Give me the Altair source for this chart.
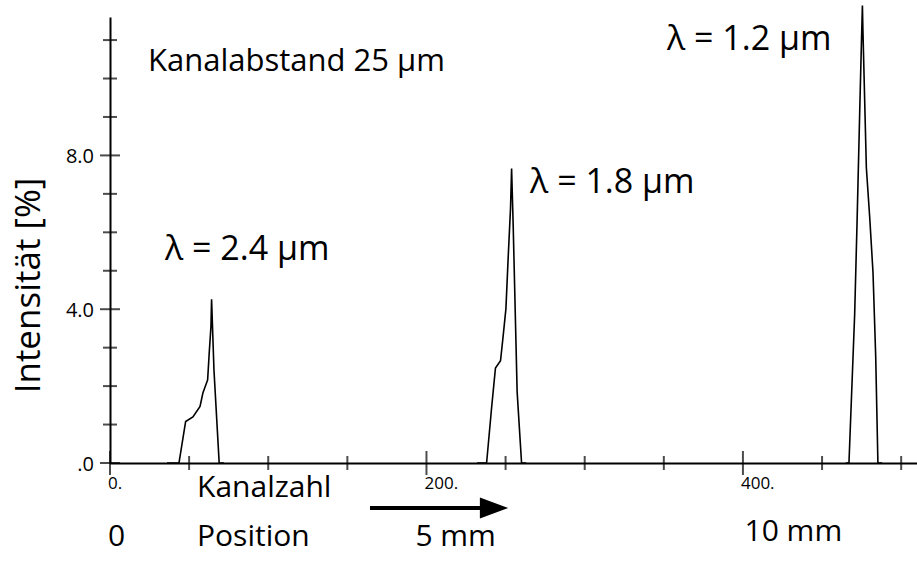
import altair as alt
import pandas as pd

# Channel profiles of the three lines (channel number, intensity in %)
peak1_x = [36, 43.6, 47.8, 52.4, 56.9, 58.7, 61.7, 62.7, 63.8, 64.2, 65.7, 69.0, 72]
peak1_y = [0, 0, 1.08, 1.2, 1.47, 1.82, 2.16, 2.86, 3.55, 4.26, 2.42, 0, 0]
peak2_x = [232, 238.0, 241.1, 243.6, 246.8, 248.5, 250.2, 251.6, 253.1, 253.8, 254.8, 256.3, 257.3, 260.1, 263]
peak2_y = [0, 0, 1.41, 2.47, 2.66, 3.32, 4.01, 5.31, 6.61, 7.66, 6.18, 3.58, 1.85, 0, 0]
peak3_x = [465, 467.0, 470.6, 472.1, 473.8, 474.9, 475.5, 475.8, 478.0, 480.1, 482.2, 483.9, 485.3, 488]
peak3_y = [0, 0, 3.86, 6.23, 9.14, 10.96, 11.9, 11.3, 7.68, 6.4, 4.95, 2.77, 0, 0]

# Axis ticks and their labels
x_major = [0, 200, 400]
x_major_labels = ["0.", "200.", "400."]
x_minor = [50, 100, 150, 250, 300, 350, 450, 500]
y_major = [0, 4, 8]
y_major_labels = [".0", "4.0", "8.0"]
y_minor = [1, 2, 3, 5, 6, 7, 9, 10, 11]

# Text annotations placed in data coordinates
notes = ["Kanalabstand 25 \u00b5m", "\u03bb = 2.4 \u00b5m", "\u03bb = 1.8 \u00b5m", "\u03bb =  1.2 \u00b5m",
         "Kanalzahl", "0", "Position", "5 mm", "10 mm"]
note_x = [24, 34.8, 265.5, 352, 55, -1.2, 55, 193, 401]
note_y = [10.43, 5.54, 7.28, 11.0, -0.66, -1.92, -1.92, -1.92, -1.8]
note_size = [31, 34, 34, 34, 30, 30, 30, 30, 30]

# Arrow under the channel axis: shaft start/end and head position
arrow_x = [164.3, 235, 242.7]
arrow_y = -1.17

FONT = "Open Sans"
H = 446  # plot height in px

rows = []
for name, xs_, ys_ in [("2.4", peak1_x, peak1_y), ("1.8", peak2_x, peak2_y), ("1.2", peak3_x, peak3_y)]:
    for i, (a, b) in enumerate(zip(xs_, ys_)):
        rows.append({"peak": name, "i": i, "kanal": a, "intens": b})
profiles = pd.DataFrame(rows)

xs = alt.Scale(domain=[0, 510], nice=False, zero=False)
ys = alt.Scale(domain=[0, 11.6], nice=False, zero=False)

lines = alt.Chart(profiles).mark_line(color="black", strokeWidth=1.6, clip=False).encode(
    x=alt.X("kanal:Q", scale=xs, axis=alt.Axis(values=x_major, labels=False, title=None)),
    y=alt.Y("intens:Q", scale=ys,
            axis=alt.Axis(values=y_major, labels=False,
                          title="Intensit\u00e4t [%]", titleFontSize=35, titleFontWeight="normal",
                          titleX=-82, titleY=268, titleAlign="center", titleBaseline="middle",
                          titleAngle=270)),
    detail="peak:N",
    order="i:Q",
)

ytick_major = alt.Chart(pd.DataFrame({"v": y_major})).mark_tick(
    orient="horizontal", color="black", thickness=2, size=20).encode(
    y=alt.Y("v:Q", scale=ys), x=alt.value(0))
ytick_minor = alt.Chart(pd.DataFrame({"v": y_minor})).mark_tick(
    orient="horizontal", color="black", thickness=2, size=14).encode(
    y=alt.Y("v:Q", scale=ys), x=alt.value(0))
xtick_major = alt.Chart(pd.DataFrame({"v": x_major})).mark_tick(
    orient="vertical", color="black", thickness=2, size=24).encode(
    x=alt.X("v:Q", scale=xs), y=alt.value(H))
xtick_minor = alt.Chart(pd.DataFrame({"v": x_minor})).mark_tick(
    orient="vertical", color="black", thickness=2, size=14).encode(
    x=alt.X("v:Q", scale=xs), y=alt.value(H))

# Tick labels
ylab = alt.Chart(pd.DataFrame({"v": y_major, "t": y_major_labels})).mark_text(
    align="right", baseline="middle", font=FONT, color="black", dy=2).encode(
    y=alt.Y("v:Q", scale=ys), x=alt.value(-16), text="t:N", size=alt.value(20))
xlab = alt.Chart(pd.DataFrame({"v": x_major, "t": x_major_labels})).mark_text(
    align="left", baseline="middle", font=FONT, color="black", dx=-2).encode(
    x=alt.X("v:Q", scale=xs), y=alt.value(H + 21), text="t:N", size=alt.value(17))

note_df = pd.DataFrame({"t": notes, "x": note_x, "y": note_y, "fs": note_size})
texts = alt.Chart(note_df).mark_text(align="left", baseline="middle", font=FONT, color="black").encode(
    x=alt.X("x:Q", scale=xs), y=alt.Y("y:Q", scale=ys), text="t:N",
    size=alt.Size("fs:Q", scale=None, legend=None))

arrow_df = pd.DataFrame({"x": [arrow_x[0]], "x2": [arrow_x[1]], "y": [arrow_y]})
shaft = alt.Chart(arrow_df).mark_rule(color="black", strokeWidth=4).encode(
    x=alt.X("x:Q", scale=xs), x2="x2:Q", y=alt.Y("y:Q", scale=ys))
head = alt.Chart(pd.DataFrame({"x": [arrow_x[2]], "y": [arrow_y]})).mark_point(
    shape="M -1 -0.75 L 1 0 L -1 0.75 Z", filled=True, color="black", opacity=1, size=800).encode(
    x=alt.X("x:Q", scale=xs), y=alt.Y("y:Q", scale=ys))

chart = alt.layer(lines, ytick_major, ytick_minor, xtick_major, xtick_minor,
                  ylab, xlab, texts, shaft, head).properties(
    width=807, height=H,
    autosize=alt.AutoSizeParams(type="none"),
    padding={"left": 110, "top": 17, "right": 0, "bottom": 102},
    background="white",
).configure_view(stroke=None).configure_axis(
    domainColor="black", domainWidth=2, grid=False, ticks=False,
    titleFont=FONT, titleColor="black",
)

chart.save("out.html", embed_options={"renderer": "svg", "actions": False})
